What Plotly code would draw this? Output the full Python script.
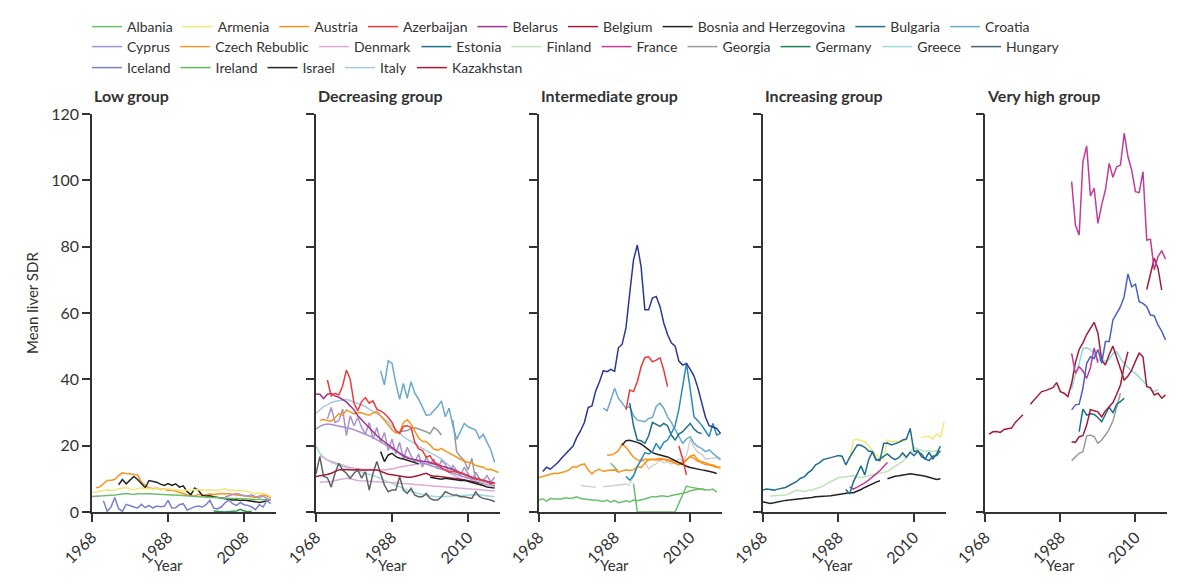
import plotly.graph_objects as go

# ---------------- data (mean liver SDR, by year) ----------------
# Low group
low_austria_start = 1969
low_austria = [7.3, 7.5, 8.5, 9.5, 9.6, 9.8, 11.0, 11.8, 11.6, 11.5, 11.4, 11.2, 9.0, 8.0, 7.3, 7.0,
               7.2, 6.8, 6.9, 6.5, 6.6, 6.2, 6.0, 5.5, 5.2, 5.0, 4.8, 5.3, 5.1, 5.2, 5.4, 5.3, 5.5,
               5.6, 5.4, 5.6, 5.3, 5.2, 5.0, 5.0, 4.8, 4.6, 4.4, 4.7, 5.2, 4.9, 4.2]
low_israel_start = 1975
low_israel = [8.2, 9.8, 8.5, 9.5, 10.7, 9.8, 8.5, 7.3, 9.5, 9.2, 9.0, 8.4, 8.0, 8.6, 8.0, 8.5, 7.5,
              7.9, 6.2, 5.2, 7.2, 6.5, 5.0, 4.8, 4.9, 4.6, 4.4, 4.2, 4.0, 3.8, 3.6, 3.7, 3.5, 3.6,
              3.4, 3.3, 3.2, 2.9, 3.1, 3.4, 3.8]
low_armenia_start = 1968
low_armenia = [5.8, 6.0, 6.2, 6.5, 6.7, 6.5, 6.6, 7.0, 7.2, 7.4, 6.9, 6.7, 7.0, 7.3, 7.0, 7.1, 6.9,
               7.0, 7.0, 6.8, 7.0, 6.8, 6.6, 6.5, 6.4, 6.6, 6.5, 6.8, 6.6, 6.7, 6.5, 6.7, 6.6, 6.5,
               6.8, 7.0, 6.5, 6.6, 6.4, 6.5, 6.4, 6.2, 6.0, 5.6, 5.7, 5.5, 5.3, 4.6]
low_albania_start = 1968
low_albania = [4.7, 4.7, 4.8, 4.9, 5.0, 5.0, 5.1, 5.3, 5.5, 5.6, 5.4, 5.3, 5.5, 5.6, 5.5, 5.5, 5.4,
               5.4, 5.3, 5.3, 5.2, 5.1, 5.1, 5.0, 4.9, 4.8, 4.8, 4.7, 4.6, 4.6, 4.5, 4.4, 4.4, 4.3,
               4.3, 4.2, 4.2, 4.1, 4.1, 4.0, 4.0, 3.9, 3.9, 3.8, 3.8, 3.8, 3.7, 3.7]
low_iceland_start = 1971
low_iceland = [3.4, 0.2, 1.5, 4.4, 1.0, 0.2, 2.3, 1.8, 1.5, 1.2, 2.3, 1.3, 2.0, 1.2, 1.8, 1.6, 1.7,
               3.5, 1.2, 1.3, 2.2, 2.5, 0.6, 1.0, 1.6, 1.8, 1.5, 2.2, 3.5, 1.2, 0.9, 1.5, 2.8, 3.6,
               2.5, 2.0, 2.8, 2.2, 2.0, 1.5, 0.7, 2.2, 1.5, 3.5, 2.5]
low_ireland_start = 2000
low_ireland = [0.3, 0.1, 0.1, 0.0, 0.1, 0.2, 0.3, 0.8, 0.3, 0.1, 0.2]
low_cyprus_start = 2003
low_cyprus = [4.5, 5.0, 5.3, 5.6, 5.2, 5.0, 4.8, 5.2, 4.6, 4.3, 4.8, 4.2, 3.4]

# Decreasing group
dec_croatia_start = 1985
dec_croatia = [42.6, 38.3, 45.6, 44.8, 38.8, 34.0, 38.8, 34.3, 39.3, 35.8, 34.0, 31.5, 29.2, 29.3,
               30.5, 31.8, 33.5, 28.7, 31.3, 26.0, 21.9, 24.2, 26.7, 25.7, 25.2, 24.7, 22.2, 23.4,
               21.0, 18.7, 14.9]
dec_azerbaijan_start = 1971
dec_azerbaijan = [39.8, 35.0, 35.8, 35.3, 38.0, 42.8, 40.0, 32.8, 30.5, 33.3, 34.5, 32.8, 33.5, 31.0,
                  30.5, 29.7, 28.5, 27.0, 24.5, 23.7, 25.8, 26.0, 25.5, 21.0, 19.0, 18.5, 16.5, 17.0,
                  15.0, 14.5, 13.2, 12.8, 12.0, 12.3, 12.0, 11.8, 11.5, 11.0, 10.5, 10.0, 9.8, 9.5,
                  9.0, 8.5, 8.8]
dec_belarus_start = 1968
dec_belarus = [35.6, 35.5, 34.2, 35.5, 35.8, 35.0, 34.6, 34.0, 33.2, 32.0, 30.8, 29.0, 27.8, 26.5,
               25.3, 24.0, 23.0, 22.0, 21.2, 20.3, 19.5, 18.6, 17.6, 17.0, 16.3, 16.0, 15.7, 15.5,
               15.3, 15.2, 14.9, 14.6, 14.3, 14.0, 13.6, 13.2, 12.8, 12.3, 11.8, 11.3, 10.8, 10.4,
               10.2, 9.9, 9.5, 9.2, 8.8, 8.6]
dec_italy_start = 1968
dec_italy = [29.7, 30.8, 31.8, 32.3, 33.0, 33.3, 33.6, 33.8, 34.0, 33.6, 33.2, 32.8, 32.3, 31.8,
             31.0, 30.3, 29.7, 29.0, 28.0, 27.2, 25.8, 24.8, 23.5, 22.7, 21.9, 21.3, 20.7, 19.8,
             19.2, 18.5, 17.9, 17.3, 16.7, 16.0, 15.0, 14.0, 13.0, 12.3, 11.7, 11.0, 10.5, 9.9,
             9.5, 9.1, 8.6, 8.2, 7.9, 7.6]
dec_czech_start = 1969
dec_czech = [27.7, 27.9, 27.6, 27.4, 28.4, 29.6, 29.2, 30.8, 30.2, 29.6, 30.0, 29.9, 29.5, 29.2,
             29.8, 30.3, 29.0, 27.6, 26.2, 24.8, 23.8, 24.0, 27.0, 27.8, 26.5, 24.2, 22.3, 21.3,
             21.2, 20.2, 19.0, 18.6, 19.2, 18.4, 17.8, 17.0, 16.6, 16.0, 15.3, 15.0, 14.8, 14.0,
             13.8, 13.5, 12.8, 12.9, 12.4, 11.9]
dec_cyprus_start = 1968
dec_cyprus = [25.0, 25.8, 26.3, 26.5, 26.4, 26.2, 26.0, 25.8, 25.5, 25.2, 24.8, 24.4, 24.0, 23.5,
              23.0, 22.4, 21.8, 21.2, 20.5, 19.8, 19.0, 18.4, 17.8, 17.1, 16.5, 16.0, 15.6, 15.2,
              14.8, 14.4, 14.0, 13.6, 13.2, 12.8, 12.4, 12.0, 11.6, 11.2, 10.8, 10.5, 10.2, 10.0,
              9.8, 9.6, 9.4, 9.2, 9.0, 8.8]
dec_lavender_start = 1971
dec_lavender = [28.0, 31.5, 27.0, 27.5, 31.0, 23.0, 29.0, 26.0, 28.5, 25.5, 23.5, 27.0, 22.0, 25.5,
                21.0, 24.0, 18.5, 22.0, 17.5, 21.0, 16.0, 19.5, 17.0, 15.0, 17.5, 13.5, 16.5, 14.5,
                16.0, 13.0, 15.5, 14.5, 12.0, 14.0, 12.5, 11.0, 13.5, 11.5, 9.5, 12.0, 10.0, 9.5,
                11.0, 9.0, 10.5]
dec_bosnia_start = 1985
dec_bosnia = [18.2, 15.2, 17.2, 17.7, 16.7, 16.2, 16.0, 15.6, 15.3, 15.0, 14.5]
dec_israel_start = 1998
dec_israel = [10.5, 10.3, 10.1, 9.9, 10.2, 10.0, 9.8, 9.6, 9.5, 9.6, 9.3, 9.0, 8.8, 8.5, 8.0, 7.5,
              7.3, 7.2]
dec_belgium_start = 1968
dec_belgium = [10.7, 10.9, 11.0, 11.3, 11.7, 12.2, 12.7, 12.8, 12.7, 12.6, 12.7, 12.8, 12.6, 12.7,
               12.8, 12.7, 12.7, 12.2, 11.7, 11.4, 11.2, 11.0, 10.8, 10.6, 10.5, 10.5, 10.7, 11.0,
               11.4, 11.7, 11.1, 10.8, 10.8, 10.7, 10.5, 10.4, 10.2, 10.0, 9.8, 9.7, 9.6, 9.4, 9.2,
               9.0, 8.7, 8.3, 8.1, 7.9]
dec_denmark_start = 1969
dec_denmark = [17.0, 16.3, 15.7, 15.2, 14.8, 14.4, 14.1, 13.7, 13.4, 13.2, 13.0, 12.9, 12.8, 12.8,
               12.7, 12.7, 12.7, 12.7, 12.8, 12.9, 13.2, 13.6, 13.8, 14.0, 14.2, 14.4, 14.6, 14.7,
               14.7, 14.6, 14.5, 14.0, 13.3, 12.5, 11.8, 11.2, 10.6, 10.1, 9.6, 9.2, 8.8, 8.5, 8.2,
               7.9, 7.7, 7.6, 7.5]
dec_pink_start = 1969
dec_pink = [9.0, 9.0, 9.1, 9.2, 9.5, 9.8, 10.0, 10.2, 10.0, 9.7, 9.5, 9.4, 9.3, 9.3, 9.2, 9.2, 9.1,
            9.0, 9.0, 8.9, 8.8, 8.8, 8.7, 8.6, 8.5, 8.4, 8.3, 8.2, 8.1, 8.0, 7.9, 7.8, 7.7, 7.6,
            7.5, 7.4, 7.3, 7.2, 7.1, 7.0, 6.9, 6.8, 6.7, 6.6, 6.5, 6.4, 6.3]
dec_greece_start = 1968
dec_greece = [19.9, 17.7, 16.4, 15.6, 15.0, 14.5, 14.1, 13.7, 13.3, 12.9, 12.6, 12.4, 12.1, 11.8,
              11.4, 11.0, 10.6, 10.1, 9.6, 9.0, 8.5, 7.9, 7.4, 7.0, 6.6, 6.2, 5.8, 5.5, 5.2, 5.0,
              4.8, 4.7, 4.6, 4.6, 4.6, 4.7, 4.8, 4.9, 5.0, 5.1, 5.2, 5.2, 5.2, 5.1, 5.0, 4.9, 4.8,
              4.6]
dec_hungary_start = 1968
dec_hungary = [11.5, 16.7, 10.7, 10.3, 7.5, 11.7, 14.7, 12.6, 11.7, 10.2, 11.7, 12.7, 10.2, 12.2,
               6.6, 11.7, 15.2, 11.7, 8.1, 6.1, 6.6, 6.6, 10.7, 6.6, 5.6, 7.1, 5.1, 4.6, 4.6, 5.6,
               4.1, 3.6, 3.6, 4.6, 6.1, 5.6, 5.1, 5.1, 4.6, 4.6, 4.3, 4.1, 6.1, 4.6, 4.1, 3.9, 3.6,
               3.1]
dec_georgia_start = 1990
dec_georgia = [24.2, 24.4, 24.6, 25.2, 25.4, 25.0, 24.7, 24.2, 23.6, 25.5, 24.6, 23.2]
dec_georgia2_start = 2004
dec_georgia2 = [27.7, 18.2, 16.7, 15.5, 12.7, 16.2, 9.6, 10.5]

# Intermediate group
int_navy_start = 1969
int_navy = [12.2, 13.5, 12.9, 13.8, 14.9, 16.3, 17.5, 18.6, 19.9, 22.5, 24.5, 27.0, 31.5, 32.0, 36.5,
            39.3, 42.6, 42.3, 43.0, 42.4, 49.5, 50.6, 55.5, 66.0, 76.0, 80.5, 74.0, 61.0, 61.0,
            64.5, 65.0, 62.0, 57.0, 53.5, 51.0, 50.0, 45.5, 44.3, 44.8, 43.0, 41.0, 37.5, 32.8,
            28.7, 26.0, 25.7, 25.2, 23.7]
int_red_start = 1991
int_red = [30.8, 36.8, 36.3, 39.3, 43.8, 46.6, 46.8, 45.3, 45.8, 46.5, 42.8, 37.8]
int_red2_start = 2005
int_red2 = [19.9, 16.0, 11.2]
int_croatia_start = 1985
int_croatia = [31.3, 30.5, 33.8, 37.3, 34.3, 32.8, 31.3, 31.8, 29.0, 27.7, 27.5, 27.2, 28.2, 28.5,
               31.8, 32.8, 31.3, 28.7, 27.0, 25.0, 22.7, 20.7, 22.0, 22.7, 20.7, 19.7, 19.2, 18.2,
               18.7, 17.7, 16.8, 15.7]
int_bulgaria_start = 1992
int_bulgaria = [32.8, 26.0, 21.7, 21.5, 20.7, 23.0, 27.0, 26.5, 25.8, 26.7, 26.0, 23.2, 21.7, 23.5,
                24.2, 25.5, 26.7, 25.0, 24.0, 23.7]
int_blue_start = 1991
int_blue = [10.7, 9.6, 11.0, 13.7, 15.7, 17.9, 17.5, 18.2, 20.7, 19.0, 21.0, 21.7, 23.7, 26.0, 31.0,
            38.0, 44.8, 37.0, 28.7, 27.5, 26.2, 24.5, 22.7, 26.7, 23.2, 23.7]
int_black_start = 1990
int_black = [20.2, 21.5, 21.6, 21.4, 21.0, 20.5, 19.6, 18.7, 17.9, 17.5, 17.1, 16.9, 16.6, 16.0,
             15.4, 14.8, 14.2, 13.8, 13.4, 13.1, 12.9, 12.7, 12.5, 12.3, 12.0, 11.6]
int_orange_start = 1968
int_orange = [10.4, 10.7, 11.0, 11.3, 11.7, 11.6, 11.8, 12.2, 12.7, 13.7, 13.5, 14.2, 14.5, 12.7,
              11.5, 12.5, 12.9, 12.2, 12.5, 12.6, 12.7, 12.0, 12.3, 12.7, 12.5, 12.7, 13.7, 13.4,
              14.7, 15.7, 15.9, 15.9, 16.2, 15.9, 15.7, 15.2, 14.7, 14.2, 14.6, 15.7, 16.7, 16.2,
              15.2, 15.2, 14.7, 14.4, 14.2, 13.7, 13.2]
int_orange2_start = 1986
int_orange2 = [17.2, 17.2, 17.6, 18.5, 20.5, 19.5, 18.0, 16.5, 15.7, 15.4, 15.9, 15.8, 15.9, 15.8,
               15.7, 16.0, 15.8, 15.7, 15.3, 14.7, 15.0, 15.8, 16.8, 17.2, 15.8, 14.8, 14.3, 14.2,
               13.7, 13.4, 13.6]
int_gray_start = 1979
int_gray = [8.0, 7.9, 7.7, 7.5, 7.5]
int_gray2_start = 1985
int_gray2 = [7.6, 7.7, 7.8, 7.9, 8.0, 8.2, 8.4, 8.0]
int_gray3_start = 1992
int_gray3 = [8.5, 10.5, 13.5, 16.0, 15.0, 13.0, 14.0, 14.5, 15.8, 14.8, 15.2, 14.5, 15.0, 16.0, 15.5,
             17.0, 22.0, 19.5, 18.0, 17.5, 16.0, 16.0, 16.2, 16.4, 16.2]
int_albania_start = 1968
int_albania = [3.6, 4.0, 3.2, 4.1, 3.9, 4.0, 3.9, 4.3, 4.1, 4.2, 4.6, 4.1, 3.9, 3.7, 3.6, 3.6, 3.4,
               3.2, 3.6, 3.0, 3.5, 2.8, 3.0, 3.4, 3.0, 3.6, 3.4, 3.6, 3.9, 4.3, 4.7, 4.5, 4.8, 4.8,
               4.6, 5.0, 5.2, 5.4, 5.6, 5.9, 6.4, 6.6, 6.8, 7.0, 6.7, 6.6, 6.9, 6.0]
int_green_start = 1987
int_green = [14.7, 13.3, 12.2]
int_ireland_years = [1993, 1994, 2004, 2007, 2008, 2009, 2010, 2011, 2012]
int_ireland = [8.6, 0.0, 0.0, 7.8, 7.5, 7.3, 7.2, 6.9, 6.6]

# Increasing group
inc_bulgaria_start = 1968
inc_bulgaria = [6.6, 6.9, 6.8, 6.6, 6.9, 7.1, 7.4, 8.0, 8.6, 9.2, 10.2, 10.6, 11.8, 12.7, 14.2, 14.8,
                15.8, 16.2, 16.4, 16.7, 17.0, 16.8, 14.2, 16.5, 18.5, 20.2, 20.1, 19.5, 18.4, 18.2,
                15.7, 15.5, 20.7, 20.8, 20.2, 20.5, 21.0, 21.7, 22.0, 25.2, 18.2, 18.5, 16.7, 16.0,
                18.0, 16.0, 17.5, 19.9]
inc_estonia_start = 1990
inc_estonia = [6.8, 5.4, 9.1, 11.4, 13.9, 11.2, 15.7, 18.2, 15.7, 16.0, 16.8, 17.5, 16.5, 15.8,
               16.4, 17.8, 16.5, 18.0, 17.0, 18.3, 17.5, 16.0, 15.5, 16.8, 17.0, 18.5]
inc_armenia_start = 1991
inc_armenia = [15.7, 21.7, 21.9, 21.5, 21.2, 20.0, 18.7, 17.2, 16.5, 16.0, 21.7, 21.2, 21.3, 21.2,
               21.5, 21.7]
inc_armenia2_start = 2010
inc_armenia2 = [22.5, 22.7, 22.8, 22.0, 23.5, 22.6, 27.2]
inc_finland_start = 1970
inc_finland = [4.8, 4.9, 4.8, 5.0, 5.1, 5.5, 6.0, 6.6, 6.3, 6.2, 6.5, 6.6, 7.0, 7.4, 7.8, 8.6, 9.2,
               9.8, 10.3, 10.5, 10.7, 10.8, 10.9, 10.6, 10.3, 10.6, 11.0, 11.2, 11.5, 11.8, 12.0,
               12.2, 13.0, 13.7, 14.5, 15.2, 16.5, 18.0, 19.5, 19.0, 18.7, 18.2, 18.5, 18.2, 18.5,
               18.0]
inc_israel_start = 1968
inc_israel = [3.1, 2.9, 2.6, 2.8, 3.1, 3.3, 3.5, 3.6, 3.7, 3.8, 3.9, 4.1, 4.2, 4.4, 4.6, 4.6, 4.7,
              4.8, 4.9, 5.1, 5.3, 5.5, 5.7, 5.8, 5.8, 6.2, 6.8, 7.4, 8.0, 8.6, 9.0, 9.4]
inc_israel2_start = 2001
inc_israel2 = [10.0, 10.4, 10.8, 10.9, 11.0, 11.3, 11.5, 11.4, 11.2, 11.0, 10.8, 10.5, 10.0, 9.8,
               10.0]
inc_france_start = 1991
inc_france = [7.6, 6.9, 7.5, 8.1, 8.8, 9.6, 10.7, 11.5, 12.5, 13.8, 14.9]

# Very high group
vh_france_start = 1991
vh_france = [99.6, 86.5, 83.5, 105.6, 110.4, 95.3, 97.6, 87.0, 92.6, 97.1, 105.1, 100.9, 104.1,
             104.6, 114.2, 107.1, 103.1, 96.6, 96.3, 102.6, 82.0, 82.2, 73.0, 77.0, 78.8, 76.2]
vh_france2_start = 1991
vh_france2 = [47.8, 41.8, 43.8, 42.5, 40.3, 43.5, 49.5, 45.0]
vh_blue_start = 1991
vh_blue = [30.8, 32.3, 32.5, 37.3, 44.8, 46.8, 46.3, 49.0, 44.8, 51.4, 51.4, 57.9, 59.9, 61.9, 65.0,
           71.8, 67.9, 68.7, 63.4, 62.9, 61.9, 59.4, 59.2, 56.4, 54.5, 51.9]
vh_kazakhstan_start = 1969
vh_kazakhstan = [23.5, 24.2, 24.3, 24.0, 24.9, 25.0, 25.3, 27.0, 28.2, 29.3, None, 32.5, 33.8, 35.0,
                 36.3, 36.6, 37.0, 37.5, 39.0, 36.3, 35.8, 34.8, 38.8, 45.0, 49.0, 51.0, 53.5, 55.5,
                 57.2, 53.9, 45.8, 44.3, 47.5, 50.0, 46.5, 42.8, 39.8, 41.0, 42.8, 45.5, 47.9, 46.8,
                 37.8, 37.5, 35.3, 35.8, 34.3, 35.3]
vh_belgium_start = 1991
vh_belgium = [21.2, 21.0, 22.7, 23.0, 26.2, 30.9, 30.5, 30.2, 28.7, 30.5, 31.7, 33.0, 35.5, 38.3,
              44.0, 48.3]
vh_red_start = 2011
vh_red = [67.1, 71.5, 76.5, 73.5, 66.9]
vh_estonia_start = 1993
vh_estonia = [24.2, 31.0, 29.2, 29.6, 29.4, 28.5, 27.2, 29.5, 31.6, 29.9, 32.5, 33.3, 34.3]
vh_georgia_start = 1991
vh_georgia = [15.5, 16.5, 17.7, 18.2, 22.9, 23.2, 22.7, 20.7, 21.7, 23.2, 25.0, 27.5, 31.3, 35.8]
vh_greece_start = 1991
vh_greece = [37.0, 41.5, 44.8, 49.3, 49.5, 49.0, 47.8, 45.8, 46.0, 45.3, 46.0, 47.8, 48.3, 46.3,
             44.8, 43.5, 42.5, 41.8, 40.8, 39.5, 38.3, 36.8, 36.3, 37.0]

groups = ['Low group', 'Decreasing group', 'Intermediate group', 'Increasing group', 'Very high group']
y_ticks = [0, 20, 40, 60, 80, 100, 120]

legend_rows = [
    ['Albania', 'Armenia', 'Austria', 'Azerbaijan', 'Belarus', 'Belgium',
     'Bosnia and Herzegovina', 'Bulgaria', 'Croatia'],
    ['Cyprus', 'Czech Rebublic', 'Denmark', 'Estonia', 'Finland', 'France', 'Georgia',
     'Germany', 'Greece', 'Hungary'],
    ['Iceland', 'Ireland', 'Israel', 'Italy', 'Kazakhstan'],
]

colors = {
    'Albania': '#6dbf6d', 'Armenia': '#f0e87a', 'Austria': '#f7941d', 'Azerbaijan': '#ec3a3a',
    'Belarus': '#a0348f', 'Belgium': '#a31d36', 'Bosnia and Herzegovina': '#222222',
    'Bulgaria': '#1f6e8c', 'Croatia': '#6aaacb', 'Cyprus': '#a892cc', 'Czech Rebublic': '#f79a2e',
    'Denmark': '#dcaad6', 'Estonia': '#17708a', 'Finland': '#bde3b8', 'France': '#c23b98',
    'Georgia': '#9a9a9a', 'Germany': '#1b7f4f', 'Greece': '#a3dada', 'Hungary': '#4a6272',
    'Iceland': '#7b7fc8', 'Ireland': '#5cb85c', 'Israel': '#222222', 'Italy': '#a8c8e6',
    'Kazakhstan': '#a31d36',
}

# (panel, name, start year or year list, values, colour)
series = [
    (1, 'Austria', low_austria_start, low_austria, colors['Austria']),
    (1, 'Israel', low_israel_start, low_israel, colors['Israel']),
    (1, 'Armenia', low_armenia_start, low_armenia, colors['Armenia']),
    (1, 'Albania', low_albania_start, low_albania, colors['Albania']),
    (1, 'Iceland', low_iceland_start, low_iceland, colors['Iceland']),
    (1, 'Ireland', low_ireland_start, low_ireland, '#2a9a4a'),
    (1, 'Cyprus', low_cyprus_start, low_cyprus, colors['Cyprus']),

    (2, 'Greece', dec_greece_start, dec_greece, '#9fd8dc'),
    (2, 'Denmark', dec_pink_start, dec_pink, colors['Denmark']),
    (2, 'Denmark', dec_denmark_start, dec_denmark, colors['Denmark']),
    (2, 'Hungary', dec_hungary_start, dec_hungary, '#5f6264'),
    (2, 'Belgium', dec_belgium_start, dec_belgium, colors['Belgium']),
    (2, 'Georgia', dec_georgia_start, dec_georgia, colors['Georgia']),
    (2, 'Georgia', dec_georgia2_start, dec_georgia2, colors['Georgia']),
    (2, 'Italy', dec_italy_start, dec_italy, colors['Italy']),
    (2, 'Cyprus', dec_cyprus_start, dec_cyprus, colors['Cyprus']),
    (2, 'Cyprus', dec_lavender_start, dec_lavender, colors['Cyprus']),
    (2, 'Czech Rebublic', dec_czech_start, dec_czech, colors['Austria']),
    (2, 'Bosnia and Herzegovina', dec_bosnia_start, dec_bosnia, '#222222'),
    (2, 'Israel', dec_israel_start, dec_israel, '#222222'),
    (2, 'Belarus', dec_belarus_start, dec_belarus, colors['Belarus']),
    (2, 'Azerbaijan', dec_azerbaijan_start, dec_azerbaijan, colors['Azerbaijan']),
    (2, 'Croatia', dec_croatia_start, dec_croatia, colors['Croatia']),

    (3, 'Albania', int_albania_start, int_albania, colors['Albania']),
    (3, 'Ireland', int_ireland_years, int_ireland, colors['Albania']),
    (3, 'Albania', int_green_start, int_green, colors['Albania']),
    (3, 'Georgia', int_gray_start, int_gray, '#d2d2d2'),
    (3, 'Georgia', int_gray2_start, int_gray2, '#d2d2d2'),
    (3, 'Georgia', int_gray3_start, int_gray3, '#d2d2d2'),
    (3, 'Austria', int_orange_start, int_orange, colors['Austria']),
    (3, 'Czech Rebublic', int_orange2_start, int_orange2, colors['Austria']),
    (3, 'Israel', int_black_start, int_black, '#222222'),
    (3, 'Croatia', int_croatia_start, int_croatia, colors['Croatia']),
    (3, 'Bulgaria', int_bulgaria_start, int_bulgaria, colors['Bulgaria']),
    (3, 'Estonia', int_blue_start, int_blue, '#2a8abf'),
    (3, 'Azerbaijan', int_red_start, int_red, colors['Azerbaijan']),
    (3, 'Azerbaijan', int_red2_start, int_red2, colors['Azerbaijan']),
    (3, 'Hungary', int_navy_start, int_navy, '#2b3990'),

    (4, 'Israel', inc_israel_start, inc_israel, '#222222'),
    (4, 'Israel', inc_israel2_start, inc_israel2, '#222222'),
    (4, 'Finland', inc_finland_start, inc_finland, colors['Finland']),
    (4, 'Armenia', inc_armenia_start, inc_armenia, colors['Armenia']),
    (4, 'Armenia', inc_armenia2_start, inc_armenia2, colors['Armenia']),
    (4, 'France', inc_france_start, inc_france, colors['France']),
    (4, 'Bulgaria', inc_bulgaria_start, inc_bulgaria, colors['Bulgaria']),
    (4, 'Estonia', inc_estonia_start, inc_estonia, colors['Bulgaria']),

    (5, 'Georgia', vh_georgia_start, vh_georgia, colors['Georgia']),
    (5, 'Estonia', vh_estonia_start, vh_estonia, colors['Estonia']),
    (5, 'Greece', vh_greece_start, vh_greece, '#8fd9d9'),
    (5, 'Belgium', vh_belgium_start, vh_belgium, colors['Belgium']),
    (5, 'Kazakhstan', vh_kazakhstan_start, vh_kazakhstan, colors['Kazakhstan']),
    (5, 'France', vh_france2_start, vh_france2, colors['France']),
    (5, 'Iceland', vh_blue_start, vh_blue, '#4a5fc1'),
    (5, 'Kazakhstan', vh_red_start, vh_red, colors['Kazakhstan']),
    (5, 'France', vh_france_start, vh_france, colors['France']),
]

# ---------------- figure ----------------
FONT = 'Lato, "Noto Sans", sans-serif'
TEXT = '#333333'
AXIS = '#333333'

# the page body has an 8px margin, so the figure is drawn 8px in from the window edge
W, H, OFF = 1168, 569, 8


def fx(px):
    return (px - OFF) / W


def fy(py):
    return 1 - (py - OFF) / H


panel_px = [(92, 276), (316, 500), (539, 722), (762.7, 945.7), (985.3, 1167)]
x_domains = [(fx(a), fx(b)) for a, b in panel_px]
y_domain = (fy(512), fy(114))

fig = go.Figure()

for panel, name, start, values, color in series:
    years = start if isinstance(start, list) else list(range(start, start + len(values)))
    fig.add_trace(go.Scatter(
        x=years, y=values, mode='lines', name=name, showlegend=False,
        line=dict(color=color, width=1.5),
        xaxis='x' if panel == 1 else f'x{panel}',
        yaxis='y' if panel == 1 else f'y{panel}',
    ))

# legend entries, one row per legend box
for row, names in enumerate(legend_rows):
    for name in names:
        fig.add_trace(go.Scatter(
            x=[None], y=[None], mode='lines', name=name,
            line=dict(color=colors[name], width=1.5),
            legend='legend' if row == 0 else f'legend{row + 1}',
        ))

layout = dict(
    width=W, height=H,
    margin=dict(l=0, r=0, t=0, b=0, autoexpand=False),
    paper_bgcolor='white', plot_bgcolor='white',
    font=dict(family=FONT, size=14, color=TEXT),
    showlegend=True,
)

legend_y = [fy(27), fy(47), fy(68)]
for row in range(3):
    key = 'legend' if row == 0 else f'legend{row + 1}'
    layout[key] = dict(
        orientation='h', x=fx(87), xanchor='left', y=legend_y[row], yanchor='middle',
        font=dict(family=FONT, size=14, color=TEXT), bgcolor='rgba(0,0,0,0)',
        itemwidth=30, tracegroupgap=0,
    )

annotations = []
for i, (dom, title) in enumerate(zip(x_domains, groups)):
    n = '' if i == 0 else str(i + 1)
    layout['xaxis' + n] = dict(
        domain=list(dom), range=[1968, 2016.4], anchor='y' + n, automargin=False,
        tickvals=[1968, 1988, 2008],
        ticktext=['1968', '1988', '2008'] if i == 0 else ['1968', '1988', '2010'],
        tickangle=-45, ticks='outside', ticklen=8, tickwidth=1.5, tickcolor=AXIS,
        showline=True, linecolor=AXIS, linewidth=1.5, showgrid=False, zeroline=False,
        tickfont=dict(size=16, color=TEXT), layer='below traces',
    )
    layout['yaxis' + n] = dict(
        domain=list(y_domain), range=[0, 120], anchor='x' + n, automargin=False,
        tickvals=y_ticks, showticklabels=(i == 0),
        ticks='outside', ticklen=8, tickwidth=1.5, tickcolor=AXIS,
        showline=True, linecolor=AXIS, linewidth=1.5, showgrid=False, zeroline=False,
        tickfont=dict(size=16, color=TEXT),
    )
    annotations.append(dict(
        text=f'<b>{title}</b>', xref='paper', yref='paper', x=dom[0], y=fy(95),
        xanchor='left', yanchor='middle', showarrow=False,
        font=dict(size=16, color=TEXT, family=FONT),
    ))
    annotations.append(dict(
        text='Year', xref='x' + n, yref='paper', x=1988, y=fy(565),
        xanchor='center', yanchor='middle', showarrow=False,
        font=dict(size=15, color=TEXT, family=FONT),
    ))

annotations.append(dict(
    text='Mean liver SDR', xref='paper', yref='paper', x=fx(32), y=fy(303),
    xanchor='center', yanchor='middle', textangle=-90, showarrow=False,
    font=dict(size=15, color=TEXT, family=FONT),
))
layout['annotations'] = annotations

fig.update_layout(**layout)
fig.write_html('out.html')
